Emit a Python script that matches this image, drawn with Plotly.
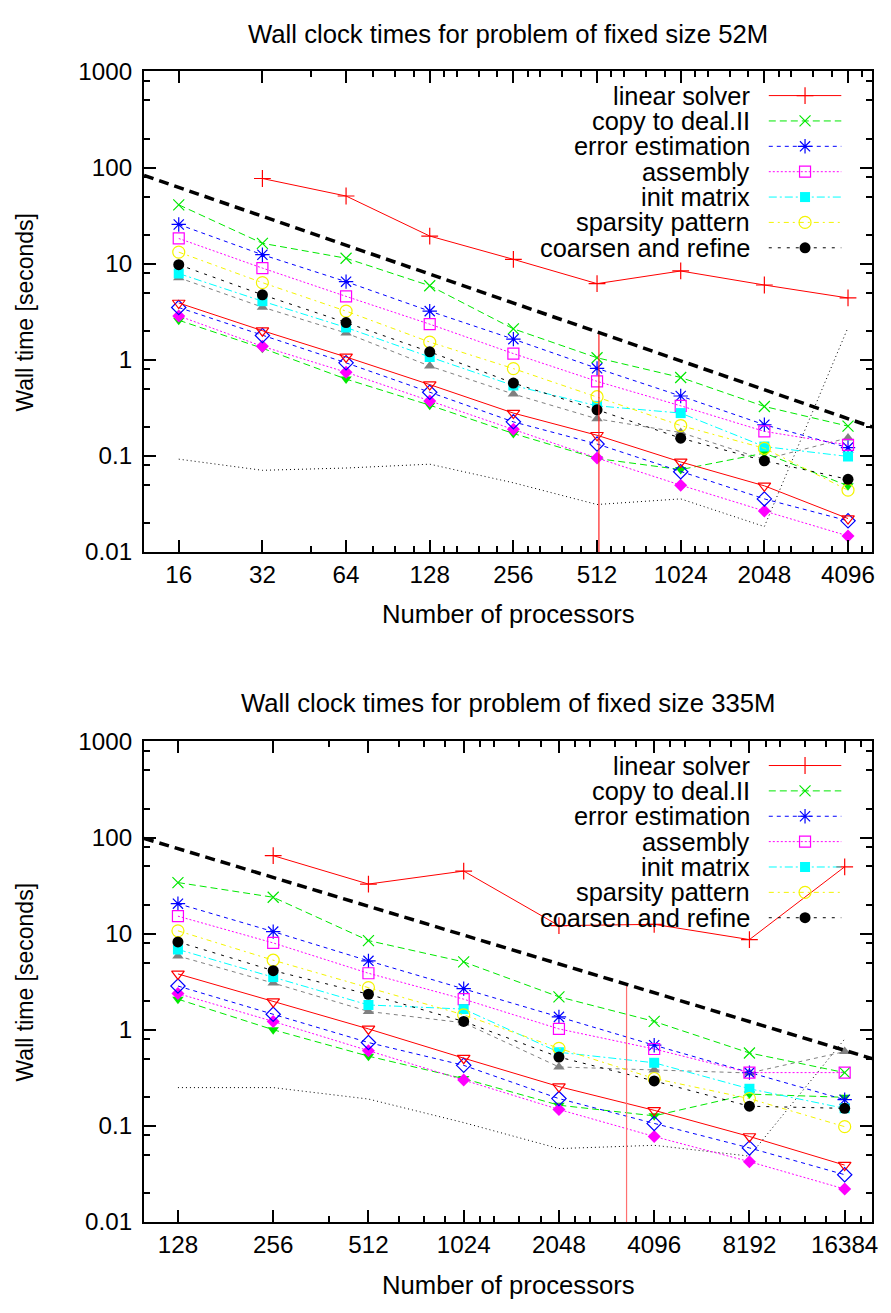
import math
import plotly.graph_objects as go

W, H = 891, 1313
FONT = "Liberation Sans, Arial, sans-serif"

# ---------------- data: problem size 52M ----------------
procs_52 = [16, 32, 64, 128, 256, 512, 1024, 2048, 4096]
linear_52 = [None, 77, 50.6, 19.4, 11.1, 6.2, 8.4, 6.0, 4.4]
copy_52 = [41, 16.3, 11.4, 5.9, 2.1, 1.05, 0.655, 0.327, 0.204]
error_52 = [25.6, 12.4, 6.5, 3.21, 1.64, 0.815, 0.42, 0.211, 0.122]
assembly_52 = [18.3, 9.0, 4.57, 2.35, 1.16, 0.597, 0.332, 0.18, 0.13]
init_52 = [7.9, 4.07, 2.17, 1.07, 0.54, 0.332, 0.279, 0.125, 0.0987]
sparsity_52 = [13.2, 6.35, 3.21, 1.53, 0.81, 0.413, 0.207, 0.12, 0.044]
coarsen_52 = [9.77, 4.75, 2.44, 1.21, 0.573, 0.302, 0.153, 0.089, 0.057]
redtri_52 = [3.9, 2.01, 1.07, 0.552, 0.279, 0.164, 0.0865, 0.0488, 0.0223]
bluedia_52 = [3.5, 1.79, 0.93, 0.46, 0.226, 0.133, 0.0684, 0.0357, 0.0211]
magdia_52 = [2.86, 1.38, 0.743, 0.372, 0.189, 0.095, 0.0496, 0.0267, 0.0147]
greentri_52 = [2.58, 1.32, 0.63, 0.337, 0.171, 0.094, 0.072, 0.107, 0.0488]
greytri_52 = [7.15, 3.53, 1.9, 0.86, 0.44, 0.243, 0.175, 0.092, 0.154]
dotted_52 = [0.0925, 0.0708, 0.0748, 0.082, 0.0525, 0.0312, 0.0357, 0.0184, 2.17]
ideal_x_52 = [12, 5000]
ideal_y_52 = [83, 0.2]
vline_x_52 = [520, 520]
vline_y_52 = [1.85, 0.001]

# ---------------- data: problem size 335M ----------------
procs_335 = [128, 256, 512, 1024, 2048, 4096, 8192, 16384]
linear_335 = [None, 64.8, 32.8, 44.8, 12.1, 12.5, 8.67, 49.6]
copy_335 = [34, 23.9, 8.47, 5.08, 2.2, 1.22, 0.573, 0.358]
error_335 = [20.5, 10.5, 5.21, 2.68, 1.36, 0.69, 0.358, 0.187]
assembly_335 = [15.2, 8.0, 3.87, 2.08, 1.02, 0.63, 0.358, 0.358]
init_335 = [6.85, 3.53, 1.81, 1.64, 0.583, 0.453, 0.243, 0.152]
sparsity_335 = [10.7, 5.29, 2.74, 1.43, 0.641, 0.311, 0.192, 0.098]
coarsen_335 = [8.2, 4.12, 2.34, 1.22, 0.519, 0.293, 0.16, 0.152]
redtri_335 = [3.81, 1.96, 1.02, 0.506, 0.256, 0.145, 0.0775, 0.039]
bluedia_335 = [2.85, 1.45, 0.736, 0.426, 0.192, 0.106, 0.0589, 0.031]
magdia_335 = [2.38, 1.22, 0.606, 0.30, 0.148, 0.0775, 0.0424, 0.022]
greentri_335 = [2.08, 1.0, 0.531, 0.31, 0.164, 0.127, 0.214, 0.198]
greytri_335 = [5.86, 3.06, 1.55, 1.18, 0.41, 0.38, 0.355, 0.592]
dotted_335 = [0.25, 0.25, 0.19, 0.108, 0.058, 0.0627, 0.0484, 0.80]
ideal_x_335 = [100, 20000]
ideal_y_335 = [98, 0.5]
vline_x_335 = [3350, 3350]
vline_y_335 = [2.97, 0.001]

# ---------------- text / ticks ----------------
legend_names = ["linear solver", "copy to deal.II", "error estimation", "assembly",
                "init matrix", "sparsity pattern", "coarsen and refine"]
title_52 = "Wall clock times for problem of fixed size 52M"
title_335 = "Wall clock times for problem of fixed size 335M"
xlabel = "Number of processors"
ylabel = "Wall time [seconds]"
xticks_52 = [16, 32, 64, 128, 256, 512, 1024, 2048, 4096]
xticks_335 = [128, 256, 512, 1024, 2048, 4096, 8192, 16384]
xminor_52 = [48, 80, 96, 112, 144, 160, 192, 224, 288, 320, 384, 448,
             576, 640, 768, 896, 1152, 1280, 1536, 1792, 2304, 2560, 3072, 3584, 4608]
xminor_335 = [384, 640, 768, 896, 1152, 1280, 1536, 1792, 2304, 2560, 3072, 3584,
              4608, 5120, 6144, 7168, 9216, 10240, 12288, 14336, 18432]
yticks = [0.01, 0.1, 1, 10, 100, 1000]
ytick_text = ["0.01", "0.1", "1", "10", "100", "1000"]
yminor = [0.02, 0.05, 0.08, 0.2, 0.5, 0.8, 2, 5, 8, 20, 50, 80, 200, 500, 800]

# ---------------- styles ----------------
STY = {
    "linear":   dict(color="#ff0000", dash="solid", symbol="cross-thin", size=12, open=True),
    "copy":     dict(color="#00e800", dash="7px,4px", symbol="x-thin", size=11, open=True),
    "error":    dict(color="#0000ff", dash="4px,4px", symbol="asterisk", size=12, open=True),
    "assembly": dict(color="#ff00ff", dash="2px,2px", symbol="square-open", size=11, open=True),
    "init":     dict(color="#00ffff", dash="8px,3px,2px,3px", symbol="square", size=10, open=False),
    "sparsity": dict(color="#f4f400", dash="5px,4px,2px,4px", symbol="circle-open", size=12, open=True),
    "coarsen":  dict(color="#000000", dash="3px,6px", symbol="circle", size=11, open=False),
    "redtri":   dict(color="#ff0000", dash="solid", symbol="triangle-down-open", size=11, open=True),
    "bluedia":  dict(color="#0000ff", dash="4px,4px", symbol="diamond-open", size=11, open=True),
    "magdia":   dict(color="#ff00ff", dash="2px,2px", symbol="diamond", size=10, open=False),
    "greentri": dict(color="#00e800", dash="7px,4px", symbol="triangle-down", size=10, open=False),
    "greytri":  dict(color="#808080", dash="4px,4px", symbol="triangle-up", size=10, open=False),
}
legend_keys = ["linear", "copy", "error", "assembly", "init", "sparsity", "coarsen"]


def marker(s):
    if s["open"]:
        return dict(symbol=s["symbol"], size=s["size"], color=s["color"],
                    line=dict(color=s["color"], width=1.2))
    return dict(symbol=s["symbol"], size=s["size"], color=s["color"], line=dict(width=0))


fig = go.Figure()


def add_series(x, y, key, xa, ya):
    s = STY[key]
    fig.add_trace(go.Scatter(x=x, y=y, mode="lines+markers", xaxis=xa, yaxis=ya,
                             line=dict(color=s["color"], width=1, dash=s["dash"]),
                             marker=marker(s), showlegend=False, connectgaps=False,
                             hoverinfo="skip"))


panels = [
    dict(xa="x", ya="y", procs=procs_52,
         series=[("greytri", greytri_52), ("greentri", greentri_52), ("magdia", magdia_52),
                 ("bluedia", bluedia_52), ("redtri", redtri_52),
                 ("linear", linear_52), ("copy", copy_52), ("error", error_52),
                 ("assembly", assembly_52), ("init", init_52), ("sparsity", sparsity_52),
                 ("coarsen", coarsen_52)],
         dotted=dotted_52, ix=ideal_x_52, iy=ideal_y_52, vx=vline_x_52, vy=vline_y_52,
         vcolor="#ff2020"),
    dict(xa="x2", ya="y2", procs=procs_335,
         series=[("greytri", greytri_335), ("greentri", greentri_335), ("magdia", magdia_335),
                 ("bluedia", bluedia_335), ("redtri", redtri_335),
                 ("linear", linear_335), ("copy", copy_335), ("error", error_335),
                 ("assembly", assembly_335), ("init", init_335), ("sparsity", sparsity_335),
                 ("coarsen", coarsen_335)],
         dotted=dotted_335, ix=ideal_x_335, iy=ideal_y_335, vx=vline_x_335, vy=vline_y_335,
         vcolor="#ff7070"),
]

for p in panels:
    fig.add_trace(go.Scatter(x=p["procs"], y=p["dotted"], mode="lines", xaxis=p["xa"], yaxis=p["ya"],
                             line=dict(color="black", width=1, dash="1px,3px"),
                             showlegend=False, hoverinfo="skip"))
    for key, vals in p["series"]:
        add_series(p["procs"], vals, key, p["xa"], p["ya"])
    fig.add_trace(go.Scatter(x=p["vx"], y=p["vy"], mode="lines", xaxis=p["xa"], yaxis=p["ya"],
                             line=dict(color=p["vcolor"], width=1.2),
                             showlegend=False, hoverinfo="skip"))
    fig.add_trace(go.Scatter(x=p["ix"], y=p["iy"], mode="lines", xaxis=p["xa"], yaxis=p["ya"],
                             line=dict(color="black", width=3.5, dash="10px,6px"),
                             showlegend=False, hoverinfo="skip"))

# empty traces so the minor-tick overlay axes get drawn
fig.add_trace(go.Scatter(x=[], y=[], xaxis="x4", yaxis="y4", showlegend=False, hoverinfo="skip"))
fig.add_trace(go.Scatter(x=[], y=[], xaxis="x5", yaxis="y5", showlegend=False, hoverinfo="skip"))

# ---------------- geometry (pixels) ----------------
top1, bot1 = 58.7, 549.3
top2, bot2 = 742.7, 1233.3
left, right = 145, 878


def py(y):
    return 1 - y / H


annotations = []
for top in (top1, top2):
    for i, key in enumerate(legend_keys):
        yrow = top + 24.6 + i * 25.9
        s = STY[key]
        fig.add_trace(go.Scatter(x=[774, 847], y=[yrow, yrow], mode="lines", xaxis="x3", yaxis="y3",
                                 line=dict(color=s["color"], width=1, dash=s["dash"]),
                                 showlegend=False, hoverinfo="skip"))
        fig.add_trace(go.Scatter(x=[810.5], y=[yrow], mode="markers", xaxis="x3", yaxis="y3",
                                 marker=marker(s), showlegend=False, hoverinfo="skip"))
        annotations.append(dict(text=legend_names[i], xref="paper", yref="paper",
                                x=757 / W, y=py(yrow), xanchor="right", yanchor="middle",
                                showarrow=False, font=dict(family=FONT, size=25.4, color="black")))

cx = (left + right) / 2 / W
for t, yt in ((title_52, 20), (title_335, 703)):
    annotations.append(dict(text=t, xref="paper", yref="paper", x=cx, y=py(yt),
                            xanchor="center", yanchor="middle", showarrow=False,
                            font=dict(family=FONT, size=25.7, color="black")))
for yt in (613, 1298):
    annotations.append(dict(text=xlabel, xref="paper", yref="paper", x=cx, y=py(yt),
                            xanchor="center", yanchor="middle", showarrow=False,
                            font=dict(family=FONT, size=25.7, color="black")))
for yt in ((top1 + bot1) / 2, (top2 + bot2) / 2):
    annotations.append(dict(text=ylabel, xref="paper", yref="paper", x=25 / W, y=py(yt),
                            xanchor="center", yanchor="middle", textangle=-90, showarrow=False,
                            font=dict(family=FONT, size=23, color="black")))


def xaxis(rng, ticks, anchor):
    return dict(type="log", range=[math.log10(rng[0]), math.log10(rng[1])],
                domain=[left / W, right / W], anchor=anchor,
                tickmode="array", tickvals=ticks, ticktext=[str(t) for t in ticks],
                ticks="inside", ticklen=12, tickwidth=1.8, tickcolor="black",
                showline=True, linecolor="black", linewidth=2, mirror="ticks",
                showgrid=False, zeroline=False,
                tickfont=dict(family=FONT, size=24.2, color="black"))


def yaxis(dom, anchor):
    return dict(type="log", range=[-2, 3], domain=dom, anchor=anchor,
                tickmode="array", tickvals=yticks, ticktext=ytick_text,
                ticks="inside", ticklen=12, tickwidth=1.8, tickcolor="black",
                showline=True, linecolor="black", linewidth=2, mirror="ticks",
                showgrid=False, zeroline=False, ticklabelstandoff=5,
                tickfont=dict(family=FONT, size=24.2, color="black"))


def xminor_axis(rng, vals, over, anchor):
    return dict(type="log", range=[math.log10(rng[0]), math.log10(rng[1])],
                overlaying=over, anchor=anchor, side="bottom",
                tickmode="array", tickvals=vals, ticktext=[""] * len(vals),
                ticks="inside", ticklen=6, tickwidth=1.5, tickcolor="black",
                showline=True, linecolor="black", linewidth=2, mirror="ticks",
                showgrid=False, zeroline=False, fixedrange=True)


def yminor_axis(over, anchor):
    return dict(type="log", range=[-2, 3], overlaying=over, anchor=anchor, side="left",
                tickmode="array", tickvals=yminor, ticktext=[""] * len(yminor),
                ticks="inside", ticklen=6, tickwidth=1.5, tickcolor="black",
                showline=True, linecolor="black", linewidth=2, mirror="ticks",
                showgrid=False, zeroline=False, fixedrange=True)


fig.update_layout(
    width=W, height=H, autosize=False,
    margin=dict(l=0, r=0, t=0, b=0),
    paper_bgcolor="white", plot_bgcolor="rgba(0,0,0,0)",
    showlegend=False,
    xaxis=xaxis((12, 5000), xticks_52, "y"),
    yaxis=yaxis([py(bot1), py(top1)], "x"),
    xaxis2=xaxis((100, 20000), xticks_335, "y2"),
    yaxis2=yaxis([py(bot2), py(top2)], "x2"),
    xaxis3=dict(domain=[0, 1], range=[0, W], visible=False, anchor="y3", fixedrange=True),
    yaxis3=dict(domain=[0, 1], range=[H, 0], visible=False, anchor="x3", fixedrange=True),
    xaxis4=xminor_axis((12, 5000), xminor_52, "x", "y4"),
    yaxis4=yminor_axis("y", "x4"),
    xaxis5=xminor_axis((100, 20000), xminor_335, "x2", "y5"),
    yaxis5=yminor_axis("y2", "x5"),
    annotations=annotations,
)

fig.write_html("out.html")
